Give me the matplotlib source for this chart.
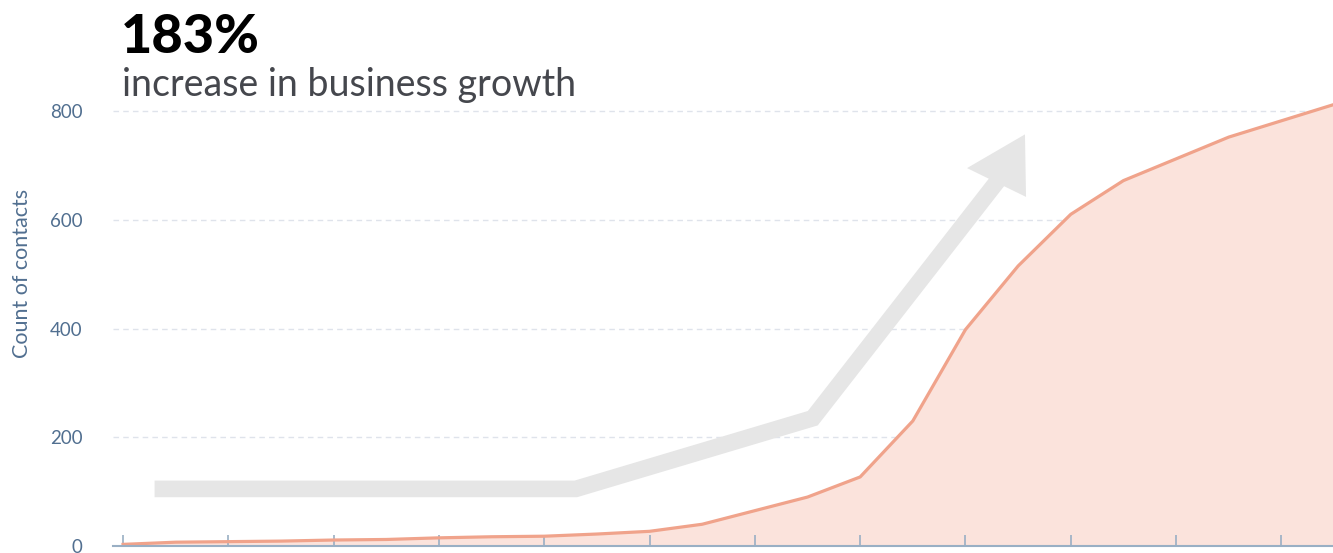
import matplotlib.pyplot as plt
import numpy as np

# dados
idx = list(range(24))
contacts = [3, 7, 8, 9, 11, 12, 15, 17, 18, 22, 27, 40, 65, 90, 127, 230,
            398, 515, 610, 672, 712, 752, 782, 812]
y_ticks = [0, 200, 400, 600, 800]
x_ticks = list(range(0, 23, 2))

# seta decorativa (coordenadas de dados)
arrow_x = [0.6, 8.6, 13.1, 16.8]
arrow_y = [105, 105, 235, 695]
head_x = [16.03, 17.13, 17.15]
head_y = [695, 757, 642]

W, H = 1333, 553
fig = plt.figure(figsize=(W / 100, H / 100), dpi=100)
# eixo: x=113..1333 px, y=0 em 546 px, 800 em 111 px
ymax = 850
ppu = (546 - 111) / 800
ax = fig.add_axes([113 / W, (H - 546) / H, (W - 113) / W, ymax * ppu / H])

ax.set_xlim(-0.19, 22.98)
ax.set_ylim(0, ymax)

for v in y_ticks[1:]:
    ax.axhline(v, color='#dfe3eb', lw=1, ls=(0, (4, 3)), zorder=0)

ax.fill_between(idx, contacts, 0, color='#fbe3dc', zorder=1, lw=0)
ax.plot(idx, contacts, color='#f0a38b', lw=2.3, zorder=2, solid_joinstyle='round')

ax.plot(arrow_x, arrow_y, color='#e6e6e6', lw=12, solid_joinstyle='miter',
        solid_capstyle='butt', zorder=3)
ax.fill(head_x, head_y, color='#e6e6e6', zorder=3, lw=0)

for s in ['top', 'right', 'left']:
    ax.spines[s].set_visible(False)
ax.spines['bottom'].set_color('#99afc4')
ax.spines['bottom'].set_linewidth(1.5)

ax.set_xticks(x_ticks)
ax.set_xticklabels([])
ax.tick_params(axis='x', direction='in', length=8, width=1.2, color='#99afc4')
ax.set_yticks(y_ticks)
ax.set_yticklabels([str(v) for v in y_ticks], fontsize=13.5, color='#516f90',
                   family='Lato')
ax.tick_params(axis='y', length=0, pad=22)

fig.text(22 / W, 1 - 273 / H, 'Count of contacts', rotation=90, ha='center',
         va='center', fontsize=15.5, color='#516f90', family='Lato')

fig.text(121 / W, 1 - 53 / H, '183%', fontsize=39, fontweight='black',
         family='Lato', color='#000000', va='baseline')
fig.text(122 / W, 1 - 96 / H, 'increase in business growth', fontsize=27,
         family='Lato', color='#45474d', va='baseline')

fig.savefig('out.png', dpi=100)
